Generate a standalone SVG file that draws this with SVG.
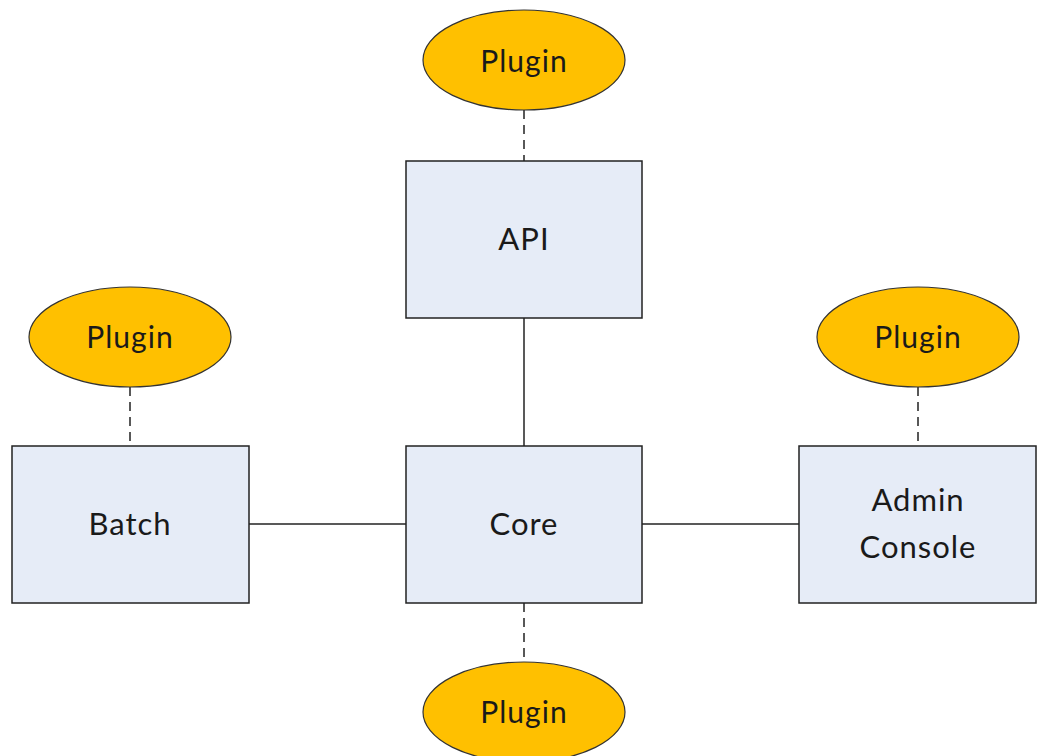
<svg xmlns="http://www.w3.org/2000/svg" width="1037" height="756" viewBox="0 0 1037 756">
<style>
.box{fill:#e6ecf7;stroke:#222;stroke-width:1.5}
.plug{fill:#ffc000;stroke:#333;stroke-width:1.2}
.lbl{font-family:Lato,"Open Sans",sans-serif;font-size:31px;fill:#1a1a1a;text-anchor:middle;letter-spacing:1px}
.plbl{font-family:Lato,"Open Sans",sans-serif;font-size:30px;fill:#1a1a1a;text-anchor:middle;letter-spacing:1px}
.solid{stroke:#222;stroke-width:1.5;fill:none}
.dash{stroke:#222;stroke-width:1.5;fill:none;stroke-dasharray:9,6}
</style>
<rect width="1037" height="756" fill="#fff"/>
<g id="connectors">
<line class="solid" x1="524" y1="318" x2="524" y2="446"/>
<line class="solid" x1="249" y1="524" x2="406" y2="524"/>
<line class="solid" x1="642" y1="524" x2="799" y2="524"/>
<line class="dash" x1="524" y1="110" x2="524" y2="161"/>
<line class="dash" x1="130" y1="387" x2="130" y2="446"/>
<line class="dash" x1="918" y1="387" x2="918" y2="446"/>
<line class="dash" x1="524" y1="603" x2="524" y2="662"/>
</g>
<g id="api"><rect class="box" x="406" y="161" width="236" height="157"/><text class="lbl" x="524" y="250">API</text></g>
<g id="core"><rect class="box" x="406" y="446" width="236" height="157"/><text class="lbl" x="524" y="535">Core</text></g>
<g id="batch"><rect class="box" x="12" y="446" width="237" height="157"/><text class="lbl" x="130" y="535">Batch</text></g>
<g id="admin"><rect class="box" x="799" y="446" width="237" height="157"/><text class="lbl" x="918" y="511">Admin</text><text class="lbl" x="918" y="558">Console</text></g>
<g id="plugin-top"><ellipse class="plug" cx="524" cy="60" rx="101" ry="50"/><text class="plbl" x="524" y="72">Plugin</text></g>
<g id="plugin-left"><ellipse class="plug" cx="130" cy="337" rx="101" ry="50"/><text class="plbl" x="130" y="348">Plugin</text></g>
<g id="plugin-right"><ellipse class="plug" cx="918" cy="337" rx="101" ry="50"/><text class="plbl" x="918" y="348">Plugin</text></g>
<g id="plugin-bottom"><ellipse class="plug" cx="524" cy="712" rx="101" ry="50"/><text class="plbl" x="524" y="723">Plugin</text></g>
</svg>
